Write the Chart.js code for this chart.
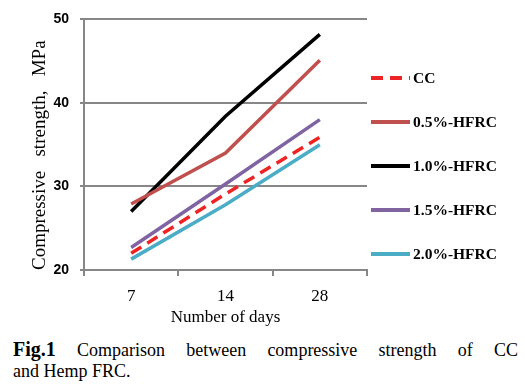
<!DOCTYPE html>
<html>
<head>
<meta charset="utf-8">
<script src="https://cdn.jsdelivr.net/npm/chart.js@4.4.0/dist/chart.umd.min.js"></script>
<style>
  html, body { margin: 0; padding: 0; background: #fff; }
  #wrap { position: relative; width: 525px; height: 391px; }
  #chart { position: absolute; left: 0; top: 0; }
  .cap { position: absolute; left: 13px; width: 505px; font-family: 'Liberation Serif', serif; font-size: 18px; line-height: 20px; color: #000; }
  .cap b { font-size: 20px; }
  #cap1 { top: 339px; text-align: justify; text-align-last: justify; }
  #cap2 { top: 361px; }
</style>
</head>
<body>
<div id="wrap">
  <canvas id="chart" width="525" height="330"></canvas>
  <div class="cap" id="cap1"><b>Fig.1</b> Comparison between compressive strength of CC</div>
  <div class="cap" id="cap2">and Hemp FRC.</div>
</div>
<script>
// days of curing
const days = ['7', '14', '28'];

// compressive strength, MPa
const ccValues = [22.0, 29.1, 35.9];
const hfrc05Values = [27.9, 34.0, 45.1];
const hfrc10Values = [27.0, 38.4, 48.2];
const hfrc15Values = [22.7, 30.3, 38.0];
const hfrc20Values = [21.3, 27.8, 35.0];

const seriesNames = ['CC', '0.5%-HFRC', '1.0%-HFRC', '1.5%-HFRC', '2.0%-HFRC'];
const seriesColors = ['#EE2424', '#C0504D', '#000000', '#8064A2', '#4BACC6'];

const gridGray = '#878787';

function makeSet(i, values) {
    return {
        label: seriesNames[i],
        data: values,
        borderColor: seriesColors[i],
        backgroundColor: seriesColors[i],
        borderWidth: 3.5,
        borderDash: i === 0 ? [12, 7] : [],
        pointRadius: 0,
        tension: 0,
        fill: false
    };
}

// legend drawn on the right, one line sample + label per series
const sideLegend = {
    id: 'sideLegend',
    afterDraw(chart) {
        const ctx = chart.ctx;
        ctx.save();
        chart.data.datasets.forEach((ds, i) => {
            const y = 78 + i * 44;
            ctx.beginPath();
            ctx.setLineDash(ds.borderDash);
            ctx.lineWidth = 4;
            ctx.strokeStyle = ds.borderColor;
            ctx.moveTo(371, y);
            ctx.lineTo(410, y);
            ctx.stroke();
            ctx.setLineDash([]);
            ctx.fillStyle = '#000';
            ctx.font = 'bold 15.5px "Liberation Serif", serif';
            ctx.textBaseline = 'middle';
            ctx.fillText(ds.label, 413, y + 1);
        });
        ctx.restore();
    }
};

new Chart(document.getElementById('chart'), {
    type: 'line',
    data: {
        labels: days,
        datasets: [
            makeSet(0, ccValues),
            makeSet(1, hfrc05Values),
            makeSet(2, hfrc10Values),
            makeSet(3, hfrc15Values),
            makeSet(4, hfrc20Values)
        ]
    },
    plugins: [sideLegend],
    options: {
        responsive: false,
        animation: false,
        layout: { padding: { left: 0, top: 16, right: 158, bottom: 0 } },
        plugins: {
            legend: { display: false },
            tooltip: { enabled: false }
        },
        scales: {
            x: {
                offset: true,
                afterFit: s => { s.height = 60; },
                grid: {
                    offset: true,
                    drawOnChartArea: false,
                    drawTicks: true,
                    tickLength: 6,
                    color: gridGray,
                    lineWidth: 2
                },
                border: { color: gridGray, width: 2 },
                ticks: {
                    color: '#000',
                    padding: 10,
                    maxRotation: 0,
                    font: { family: '"Liberation Serif", serif', size: 17 }
                },
                title: {
                    display: true,
                    text: 'Number of days',
                    color: '#000',
                    padding: { top: 0, bottom: 2 },
                    font: { family: '"Liberation Serif", serif', size: 17 }
                }
            },
            y: {
                min: 20,
                max: 50,
                afterFit: s => { s.width = 84; },
                grid: {
                    color: gridGray,
                    lineWidth: 2,
                    tickLength: 4
                },
                border: { color: gridGray, width: 2 },
                ticks: {
                    stepSize: 10,
                    color: '#000',
                    padding: 11,
                    font: { family: '"Liberation Sans Narrow", "Liberation Sans", sans-serif', size: 14, weight: 'bold' }
                },
                title: {
                    display: true,
                    text: 'Compressive   strength,   MPa',
                    align: 'start',
                    color: '#000',
                    padding: { top: 29, bottom: 0 },
                    font: { family: '"Liberation Serif", serif', size: 19 }
                }
            }
        }
    }
});
</script>
</body>
</html>
